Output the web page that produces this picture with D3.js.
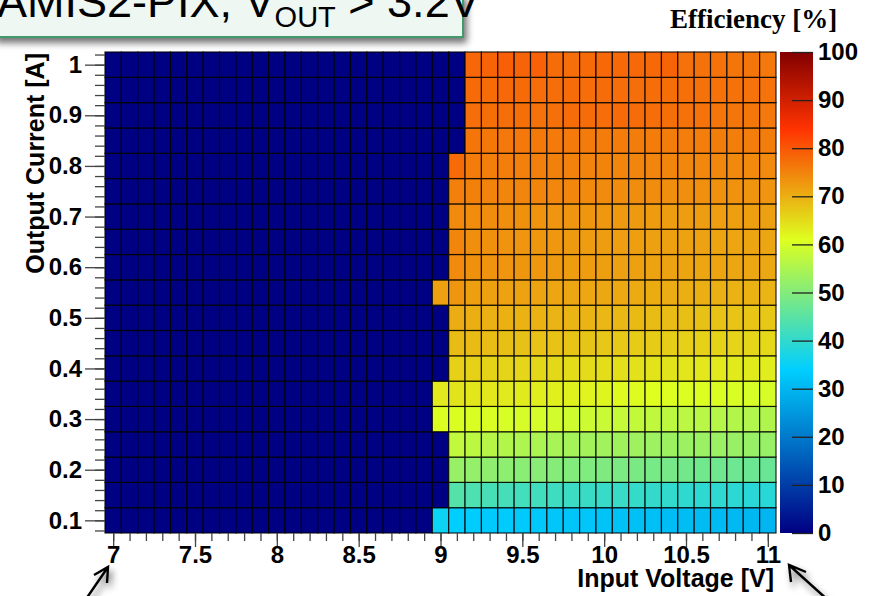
<!DOCTYPE html>
<html>
<head>
<meta charset="utf-8">
<script src="https://cdn.jsdelivr.net/npm/d3@7"></script>
<style>
  body { margin: 0; background: #fff; overflow: hidden; }
  svg { display: block; font-family: "Liberation Sans", Arial, sans-serif; }
</style>
</head>
<body>
<svg id="chart" width="872" height="596"></svg>
<script>
const FRAME = { left: 105, right: 776, top: 52, bottom: 533 };
const BAR = { left: 780, right: 813 };
const LABEL_FONT = 24;

// bin centres
const voltages = [7.0, 7.1, 7.2, 7.3, 7.4, 7.5, 7.6, 7.7, 7.8, 7.9,
  8.0, 8.1, 8.2, 8.3, 8.4, 8.5, 8.6, 8.7, 8.8, 8.9,
  9.0, 9.1, 9.2, 9.3, 9.4, 9.5, 9.6, 9.7, 9.8, 9.9,
  10.0, 10.1, 10.2, 10.3, 10.4, 10.5, 10.6, 10.7, 10.8, 10.9, 11.0];
const currents = [0.1, 0.15, 0.2, 0.25, 0.3, 0.35, 0.4, 0.45, 0.5, 0.55,
  0.6, 0.65, 0.7, 0.75, 0.8, 0.85, 0.9, 0.95, 1.0];

const xTickLabels = [7, 7.5, 8, 8.5, 9, 9.5, 10, 10.5, 11];
const yTickLabels = [0.1, 0.2, 0.3, 0.4, 0.5, 0.6, 0.7, 0.8, 0.9, 1];
const zTickLabels = [0, 10, 20, 30, 40, 50, 60, 70, 80, 90, 100];

const paletteStops = [0, 34, 61, 84, 100];
const paletteColors = ["rgb(0,0,130)", "rgb(0,207,255)", "rgb(222,255,31)", "rgb(255,51,0)", "rgb(130,0,0)"];

// efficiency [%] per current row, columns follow `voltages`
const eff010 = [0, 0, 0, 0, 0, 0, 0, 0, 0, 0, 0, 0, 0, 0, 0, 0, 0, 0, 0, 0,
  35.5, 33.8, 33.5, 33.2, 33.4, 33.0, 32.8, 32.6, 32.4, 32.5, 32.0, 31.8, 31.6, 31.5, 31.2, 31.0, 30.8, 30.6, 30.4, 30.2, 29.8];
const eff015 = [0, 0, 0, 0, 0, 0, 0, 0, 0, 0, 0, 0, 0, 0, 0, 0, 0, 0, 0, 0,
  0, 44.3, 43.5, 42.8, 42.5, 42.2, 42.0, 41.5, 41.2, 41.0, 40.8, 40.8, 40.5, 40.2, 40.0, 39.8, 39.6, 39.5, 39.2, 39.0, 38.8];
const eff020 = [0, 0, 0, 0, 0, 0, 0, 0, 0, 0, 0, 0, 0, 0, 0, 0, 0, 0, 0, 0,
  0, 52.5, 52.0, 51.5, 51.2, 50.8, 50.5, 50.2, 49.8, 49.6, 49.3, 49.0, 48.8, 48.5, 48.3, 48.0, 47.8, 47.5, 47.3, 47.0, 46.7];
const eff025 = [0, 0, 0, 0, 0, 0, 0, 0, 0, 0, 0, 0, 0, 0, 0, 0, 0, 0, 0, 0,
  0, 57.4, 56.8, 56.2, 55.8, 55.2, 54.8, 54.4, 54.0, 53.8, 53.6, 53.5, 53.3, 53.2, 53.0, 52.9, 52.8, 52.8, 52.6, 52.5, 52.4];
const eff030 = [0, 0, 0, 0, 0, 0, 0, 0, 0, 0, 0, 0, 0, 0, 0, 0, 0, 0, 0, 0,
  60.8, 60.6, 60.4, 60.5, 60.2, 60.0, 59.8, 59.5, 59.2, 58.8, 58.4, 58.0, 57.6, 57.3, 57.0, 56.7, 56.4, 56.1, 55.8, 55.6, 55.4];
const eff035 = [0, 0, 0, 0, 0, 0, 0, 0, 0, 0, 0, 0, 0, 0, 0, 0, 0, 0, 0, 0,
  63.5, 64.0, 63.8, 63.6, 63.4, 63.2, 63.0, 62.8, 62.5, 62.2, 62.0, 61.6, 61.3, 61.0, 60.8, 60.8, 60.7, 60.6, 60.4, 60.2, 60.0];
const eff040 = [0, 0, 0, 0, 0, 0, 0, 0, 0, 0, 0, 0, 0, 0, 0, 0, 0, 0, 0, 0,
  0, 66.3, 66.2, 66.0, 65.9, 65.6, 65.5, 65.3, 65.1, 65.0, 64.8, 64.6, 64.4, 64.2, 64.0, 63.8, 63.6, 63.5, 63.3, 63.2, 63.0];
const eff045 = [0, 0, 0, 0, 0, 0, 0, 0, 0, 0, 0, 0, 0, 0, 0, 0, 0, 0, 0, 0,
  0, 68.6, 68.5, 68.4, 68.2, 68.0, 67.9, 67.8, 67.6, 67.5, 67.3, 67.1, 66.9, 66.7, 66.5, 66.3, 66.1, 66.0, 65.8, 65.6, 65.4];
const eff050 = [0, 0, 0, 0, 0, 0, 0, 0, 0, 0, 0, 0, 0, 0, 0, 0, 0, 0, 0, 0,
  0, 70.2, 70.0, 69.9, 69.8, 69.7, 69.6, 69.5, 69.4, 69.3, 69.1, 69.0, 68.8, 68.6, 68.4, 68.2, 68.0, 67.8, 67.6, 67.4, 67.2];
const eff055 = [0, 0, 0, 0, 0, 0, 0, 0, 0, 0, 0, 0, 0, 0, 0, 0, 0, 0, 0, 0,
  71.6, 73.0, 71.8, 71.6, 71.5, 71.4, 71.3, 71.2, 71.0, 70.9, 70.8, 70.7, 70.5, 70.4, 70.2, 70.1, 70.0, 69.9, 69.7, 69.6, 69.4];
const eff060 = [0, 0, 0, 0, 0, 0, 0, 0, 0, 0, 0, 0, 0, 0, 0, 0, 0, 0, 0, 0,
  0, 74.2, 73.4, 73.2, 73.0, 72.8, 72.6, 72.4, 72.2, 72.0, 71.8, 71.7, 71.6, 71.5, 71.4, 71.3, 71.2, 71.1, 71.0, 70.9, 70.8];
const eff065 = [0, 0, 0, 0, 0, 0, 0, 0, 0, 0, 0, 0, 0, 0, 0, 0, 0, 0, 0, 0,
  0, 74.6, 73.6, 73.4, 73.2, 73.0, 72.8, 72.6, 72.4, 72.2, 72.0, 71.9, 71.8, 71.7, 71.6, 71.5, 71.4, 71.3, 71.2, 71.1, 71.0];
const eff070 = [0, 0, 0, 0, 0, 0, 0, 0, 0, 0, 0, 0, 0, 0, 0, 0, 0, 0, 0, 0,
  0, 74.2, 74.0, 73.8, 73.6, 73.4, 73.2, 73.0, 72.9, 72.8, 72.6, 72.5, 72.4, 72.3, 72.2, 72.1, 72.0, 71.9, 71.8, 71.8, 71.7];
const eff075 = [0, 0, 0, 0, 0, 0, 0, 0, 0, 0, 0, 0, 0, 0, 0, 0, 0, 0, 0, 0,
  0, 75.4, 75.2, 75.0, 74.8, 74.7, 74.6, 74.5, 74.4, 74.2, 74.1, 74.0, 73.9, 73.8, 73.7, 73.6, 73.5, 73.4, 73.3, 73.1, 73.0];
const eff080 = [0, 0, 0, 0, 0, 0, 0, 0, 0, 0, 0, 0, 0, 0, 0, 0, 0, 0, 0, 0,
  0, 77.8, 75.8, 75.6, 75.5, 75.4, 75.3, 75.2, 75.1, 75.0, 74.9, 74.8, 74.7, 74.7, 74.6, 74.5, 74.5, 74.4, 74.3, 74.2, 74.2];
const eff085 = [0, 0, 0, 0, 0, 0, 0, 0, 0, 0, 0, 0, 0, 0, 0, 0, 0, 0, 0, 0,
  0, 0, 76.4, 76.3, 76.2, 76.2, 76.1, 76.0, 76.0, 75.9, 75.8, 75.8, 75.7, 75.8, 75.7, 75.6, 75.6, 75.7, 75.6, 75.6, 75.7];
const eff090 = [0, 0, 0, 0, 0, 0, 0, 0, 0, 0, 0, 0, 0, 0, 0, 0, 0, 0, 0, 0,
  0, 0, 77.3, 77.2, 77.4, 77.2, 77.0, 77.1, 77.6, 77.6, 77.5, 77.7, 77.6, 77.4, 77.2, 77.0, 76.8, 76.6, 76.4, 76.3, 76.2];
const eff095 = [0, 0, 0, 0, 0, 0, 0, 0, 0, 0, 0, 0, 0, 0, 0, 0, 0, 0, 0, 0,
  0, 0, 77.8, 77.6, 78.0, 77.7, 77.5, 77.4, 77.6, 77.5, 77.6, 77.5, 77.4, 77.3, 77.2, 77.1, 77.0, 76.9, 76.9, 76.8, 76.8];
const eff100 = [0, 0, 0, 0, 0, 0, 0, 0, 0, 0, 0, 0, 0, 0, 0, 0, 0, 0, 0, 0,
  0, 0, 78.2, 78.6, 79.0, 78.6, 78.8, 77.6, 77.4, 77.8, 78.0, 78.0, 78.0, 78.0, 78.5, 77.0, 77.0, 77.0, 76.6, 76.6, 76.2];

const efficiency = [eff010, eff015, eff020, eff025, eff030, eff035, eff040, eff045, eff050, eff055,
  eff060, eff065, eff070, eff075, eff080, eff085, eff090, eff095, eff100];

const cells = efficiency.flatMap((row, i) =>
  row.map((value, j) => ({ current: currents[i], voltage: voltages[j], value })));

const svg = d3.select("#chart");
const defs = svg.append("defs");

const shadow = defs.append("filter")
  .attr("id", "shadow")
  .attr("x", "-20%").attr("y", "-20%")
  .attr("width", "140%").attr("height", "180%");
shadow.append("feGaussianBlur").attr("in", "SourceAlpha").attr("stdDeviation", 3.5);
shadow.append("feOffset").attr("dx", 3).attr("dy", 5).attr("result", "off");
shadow.append("feComponentTransfer").append("feFuncA").attr("type", "linear").attr("slope", 0.55);
const merge = shadow.append("feMerge");
merge.append("feMergeNode");
merge.append("feMergeNode").attr("in", "SourceGraphic");

const xScale = d3.scaleLinear().domain([6.95, 11.05]).range([FRAME.left, FRAME.right]);
const yScale = d3.scaleLinear().domain([0.075, 1.025]).range([FRAME.bottom, FRAME.top]);
const zScale = d3.scaleLinear().domain([0, 100]).range([FRAME.bottom, FRAME.top]);
const color = d3.scaleLinear().domain(paletteStops).range(paletteColors).interpolate(d3.interpolateRgb);

// cells
svg.append("g")
  .selectAll("rect")
  .data(cells)
  .join("rect")
  .attr("x", d => xScale(d.voltage - 0.05))
  .attr("y", d => yScale(d.current + 0.025))
  .attr("width", d => xScale(d.voltage + 0.05) - xScale(d.voltage - 0.05))
  .attr("height", d => yScale(d.current - 0.025) - yScale(d.current + 0.025))
  .attr("fill", d => color(d.value))
  .attr("stroke", "#000")
  .attr("stroke-opacity", 0.85)
  .attr("stroke-width", 1.2);

// axes
function styleAxis(g) {
  g.select(".domain").remove();
  g.selectAll("line").attr("stroke", "#444").attr("stroke-width", 1.3);
  g.selectAll("text")
    .attr("font-size", LABEL_FONT)
    .attr("font-weight", "bold")
    .attr("fill", "#000");
}

svg.append("g")
  .attr("transform", `translate(0,${FRAME.bottom})`)
  .call(d3.axisBottom(xScale).tickValues(xScale.ticks(41)).tickSize(8).tickFormat(""))
  .call(styleAxis);
svg.append("g")
  .attr("transform", `translate(0,${FRAME.bottom})`)
  .call(d3.axisBottom(xScale).tickValues(xTickLabels).tickSize(14).tickPadding(-1)
    .tickFormat(d3.format("")))
  .call(styleAxis);

svg.append("g")
  .attr("transform", `translate(${FRAME.left},0)`)
  .call(d3.axisLeft(yScale).tickValues(yScale.ticks(48)).tickSize(10).tickFormat(""))
  .call(styleAxis);
svg.append("g")
  .attr("transform", `translate(${FRAME.left},0)`)
  .call(d3.axisLeft(yScale).tickValues(yTickLabels).tickSize(20).tickPadding(3)
    .tickFormat(d3.format("")))
  .call(styleAxis);

// colour bar
const grad = defs.append("linearGradient")
  .attr("id", "palette")
  .attr("x1", 0).attr("y1", 1).attr("x2", 0).attr("y2", 0);
grad.selectAll("stop")
  .data(paletteStops)
  .join("stop")
  .attr("offset", d => d / 100)
  .attr("stop-color", (d, i) => paletteColors[i]);

svg.append("rect")
  .attr("x", BAR.left)
  .attr("y", zScale(100))
  .attr("width", BAR.right - BAR.left)
  .attr("height", zScale(0) - zScale(100))
  .attr("fill", "url(#palette)");

svg.append("g")
  .attr("transform", `translate(${BAR.right},0)`)
  .call(d3.axisRight(zScale).tickValues(zTickLabels).tickSize(-21).tickPadding(5))
  .call(styleAxis)
  .call(g => g.selectAll("line").attr("stroke", "#222"));

// titles
svg.append("text")
  .attr("transform", `translate(44,${FRAME.top + 1}) rotate(-90)`)
  .attr("text-anchor", "end")
  .attr("font-size", 25)
  .attr("font-weight", "bold")
  .text("Output Current [A]");

svg.append("text")
  .attr("x", 774)
  .attr("y", 587)
  .attr("text-anchor", "end")
  .attr("font-size", 25)
  .attr("font-weight", "bold")
  .text("Input Voltage [V]");

svg.append("text")
  .attr("x", 670)
  .attr("y", 28)
  .style("font-family", "'Liberation Serif', 'Times New Roman', serif")
  .attr("font-size", 27)
  .attr("font-weight", "bold")
  .text("Efficiency [%]");

// title box
svg.append("rect")
  .attr("x", -6)
  .attr("y", -6)
  .attr("width", 469)
  .attr("height", 43)
  .attr("fill", "#eef7f2")
  .attr("stroke", "#3f9a6c")
  .attr("stroke-width", 2)
  .attr("filter", "url(#shadow)");

const title = svg.append("text")
  .attr("x", -3)
  .attr("y", 17)
  .attr("font-size", 45)
  .attr("fill", "#000");
title.append("tspan").text("AMIS2-PIX, V");
title.append("tspan").attr("font-size", 29).attr("dy", 10).text("OUT");
title.append("tspan").attr("dy", -10).text(" > 3.2V");

// arrows
const arrows = svg.append("g")
  .attr("fill", "none")
  .attr("stroke", "#000")
  .attr("stroke-width", 2.4)
  .attr("filter", "url(#shadow)");
arrows.append("path").attr("d", "M84,602 L108,567 M94,575 L108,567 L107,583");
arrows.append("path").attr("d", "M830,602 L789,565 M806,572 L789,565 L791,582");
</script>
</body>
</html>
